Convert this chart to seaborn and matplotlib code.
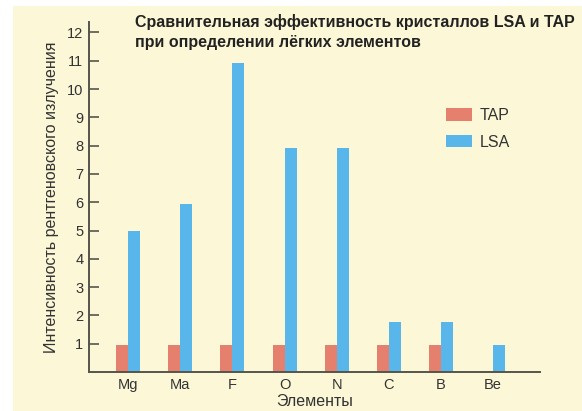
import matplotlib
matplotlib.use("Agg")
import matplotlib.pyplot as plt
import matplotlib.patches as mpatches
import seaborn as sns
import pandas as pd

elements = ["Mg", "Ma", "F", "O", "N", "C", "B", "Be"]
tap_values = [0.94, 0.94, 0.94, 0.94, 0.94, 0.94, 0.94, 0.0]
lsa_values = [5.0, 5.95, 10.93, 7.9, 7.93, 1.75, 1.78, 0.96]
series_names = ["TAP", "LSA"]
y_ticks = list(range(1, 13))

title_text = "Сравнительная эффективность кристаллов LSA и TAP\nпри определении лёгких элементов"
y_label = "Интенсивность рентгеновского излучения"
x_label = "Элементы"

tap_color = "#E5806F"
lsa_color = "#58B6EA"
bg_color = "#FCF8D7"
axis_color = "#55554c"
text_color = "#333333"

sns.set_style("white")
plt.rcParams["font.family"] = ["Liberation Sans", "DejaVu Sans"]

df = pd.DataFrame({
    "element": elements * 2,
    "value": tap_values + lsa_values,
    "series": [series_names[0]] * len(elements) + [series_names[1]] * len(elements),
})

fig = plt.figure(figsize=(5.82, 4.11), dpi=100)
fig.patch.set_facecolor("white")
fig.patches.append(mpatches.Rectangle((13 / 582, 0), 1 - 13 / 582, 1 - 6 / 411,
                                      transform=fig.transFigure, facecolor=bg_color,
                                      edgecolor="none", zorder=-10))

ax = fig.add_axes([89 / 582, 1 - 372 / 411, (540 - 89) / 582, (372 - 22) / 411])
ax.set_facecolor("none")

sns.barplot(data=df, x="element", y="value", hue="series", order=elements,
            hue_order=series_names, palette=[tap_color, lsa_color],
            width=0.46, gap=0, dodge=True, saturation=1, ax=ax, legend=False,
            errorbar=None, linewidth=0, edgecolor="none")

ax.set_xlim(-0.75, 7.9)
ax.set_ylim(0, 12.37)
ax.set_yticks(y_ticks)
ax.set_yticklabels([str(t) for t in y_ticks])

for s in ["top", "right"]:
    ax.spines[s].set_visible(False)
for s in ["left", "bottom"]:
    ax.spines[s].set_color(axis_color)
    ax.spines[s].set_linewidth(1.4)

ax.tick_params(axis="y", direction="in", length=7.5, width=1.2, color=axis_color,
               labelsize=10.5, labelcolor=text_color, pad=4, left=True)
ax.tick_params(axis="x", length=0, labelsize=10.5, labelcolor=text_color, pad=4)

ax.set_xlabel(x_label, fontsize=11.5, color=text_color, labelpad=2)
ax.set_ylabel(y_label, fontsize=11.5, color=text_color, labelpad=6)

fig.text(135 / 582, 1 - 14 / 411, title_text, ha="left", va="top",
         fontsize=11.5, fontweight="bold", color="#222222", linespacing=1.4)

handles = [mpatches.Patch(facecolor=tap_color, edgecolor="none", label=series_names[0]),
           mpatches.Patch(facecolor=lsa_color, edgecolor="none", label=series_names[1])]
fig.legend(handles=handles, loc="upper left", bbox_to_anchor=(432 / 582, 1 - 94 / 411),
           frameon=False, fontsize=11.5, handlelength=1.6, handleheight=0.85,
           labelspacing=0.7, handletextpad=0.5, labelcolor=text_color)

fig.savefig("out.png", dpi=100)
